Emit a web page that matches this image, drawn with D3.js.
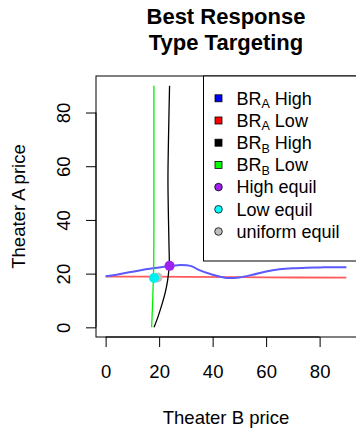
<!DOCTYPE html>
<html>
<head>
<meta charset="utf-8">
<script src="https://cdn.jsdelivr.net/npm/d3@7"></script>
<style>
  body { margin: 0; background: #fff; }
  text { font-family: "Liberation Sans", Arial, sans-serif; fill: #000; }
</style>
</head>
<body>
<div id="chart"></div>
<script>
// ---- data ----
// BR_A curves: theater A price as a function of theater B price
var brAHighX = [0, 5, 10, 15, 20, 25, 28, 32, 35, 40, 45, 50, 55, 60, 65, 70, 75, 80, 85, 90];
var brAHighY = [19.0, 19.8, 20.7, 21.6, 22.3, 22.9, 23.2, 22.8, 21.3, 19.6, 18.4, 18.6, 19.6, 20.8, 21.6, 22.0, 22.2, 22.3, 22.4, 22.4];
var brALowX = [0, 30, 60, 90];
var brALowY = [18.9, 18.8, 18.6, 18.5];
// BR_B curves: theater B price as a function of theater A price
var brBHighY = [0, 4, 9, 13, 17, 21, 25, 30, 40, 55, 70, 90];
var brBHighX = [18.1, 19.6, 21.2, 22.3, 23.1, 23.6, 23.8, 23.7, 23.5, 23.3, 23.5, 23.9];
var brBLowY = [0, 5, 10, 15, 18, 25, 40, 60, 90];
var brBLowX = [17.2, 17.4, 17.6, 17.75, 17.85, 18.0, 18.05, 18.05, 18.05];
// equilibria (B price, A price)
var equilNames = ["High equil", "Low equil", "uniform equil"];
var equilX = [23.9, 18.1, 19.4];
var equilY = [22.9, 18.4, 18.6];

var tickVals = [0, 20, 40, 60, 80];

var width = 356, height = 429;
var svg = d3.select("#chart").append("svg")
  .attr("width", width).attr("height", height);

var x = d3.scaleLinear().domain([-3.6, 93.6]).range([96, 356]);
var y = d3.scaleLinear().domain([-3.6, 93.6]).range([337, 76]);

// title
svg.append("text").attr("x", 226).attr("y", 23.5).attr("text-anchor", "middle")
  .style("font-size", "22px").style("font-weight", "bold").text("Best Response");
svg.append("text").attr("x", 226).attr("y", 49.5).attr("text-anchor", "middle")
  .style("font-size", "22px").style("font-weight", "bold").text("Type Targeting");

// axes (R style: line only from first to last tick)
var xAxis = svg.append("g").attr("transform", "translate(0,337)")
  .call(d3.axisBottom(x).tickValues(tickVals).tickSize(10).tickPadding(18).tickSizeOuter(0));
xAxis.select(".domain").attr("d", "M" + x(0) + ",0H" + x(80));
xAxis.selectAll("text").style("font-size", "18.5px").attr("font-family", null);

var yAxis = svg.append("g").attr("transform", "translate(96,0)")
  .call(d3.axisLeft(y).tickValues(tickVals).tickSize(10).tickSizeOuter(0));
yAxis.select(".domain").attr("d", "M0," + y(0) + "V" + y(80));
yAxis.selectAll(".tick text")
  .attr("x", null).attr("dy", null)
  .attr("transform", "translate(-26,0) rotate(-90)")
  .attr("text-anchor", "middle")
  .style("font-size", "18.5px").attr("font-family", null);
svg.selectAll(".tick line, .domain").attr("stroke", "#000").attr("stroke-width", 1);

// axis titles
svg.append("text").attr("x", 226).attr("y", 424).attr("text-anchor", "middle")
  .style("font-size", "18.5px").text("Theater B price");
svg.append("text").attr("transform", "translate(25,206.5) rotate(-90)")
  .attr("text-anchor", "middle").style("font-size", "18.5px").text("Theater A price");

// curves
var lineYofX = d3.line().x(d => x(d[0])).y(d => y(d[1])).curve(d3.curveCatmullRom);

svg.append("path").datum(brALowX.map((v, i) => [v, brALowY[i]]))
  .attr("d", lineYofX).attr("fill", "none").attr("stroke", "#ff5a5a").attr("stroke-width", 1.8);
svg.append("path").datum(brAHighX.map((v, i) => [v, brAHighY[i]]))
  .attr("d", lineYofX).attr("fill", "none").attr("stroke", "#5a5aff").attr("stroke-width", 2);
svg.append("path").datum(brBLowX.map((v, i) => [v, brBLowY[i]]))
  .attr("d", lineYofX).attr("fill", "none").attr("stroke", "#00ee00").attr("stroke-width", 1.3);
svg.append("path").datum(brBHighX.map((v, i) => [v, brBHighY[i]]))
  .attr("d", lineYofX).attr("fill", "none").attr("stroke", "#000").attr("stroke-width", 1.3);

// equilibrium points (uniform drawn first, behind)
var equilColors = ["#a020f0", "#00f0f0", "#bebebe"];
var order = [2, 1, 0];
svg.selectAll(".eq").data(order).enter().append("circle")
  .attr("class", "eq")
  .attr("cx", i => x(equilX[i])).attr("cy", i => y(equilY[i]))
  .attr("r", 5).attr("fill", i => equilColors[i]);

// plot box
svg.append("rect").attr("x", 96).attr("y", 76).attr("width", 262).attr("height", 261)
  .attr("fill", "none").attr("stroke", "#000").attr("stroke-width", 1);

// legend
var legendItems = [
  { main: "BR", sub: "A", rest: " High", col: "#0000ff", shape: "sq" },
  { main: "BR", sub: "A", rest: " Low", col: "#ff0000", shape: "sq" },
  { main: "BR", sub: "B", rest: " High", col: "#000000", shape: "sq" },
  { main: "BR", sub: "B", rest: " Low", col: "#00ff00", shape: "sq" },
  { main: "High equil", sub: "", rest: "", col: "#a020f0", shape: "ci" },
  { main: "Low equil", sub: "", rest: "", col: "#00ffff", shape: "ci" },
  { main: "uniform equil", sub: "", rest: "", col: "#bebebe", shape: "ci" }
];
var legend = svg.append("g");
legend.append("rect").attr("x", 203.5).attr("y", 76).attr("width", 160).attr("height", 185)
  .attr("fill", "#fff").attr("stroke", "#000").attr("stroke-width", 1);
var rows = legend.selectAll(".row").data(legendItems).enter().append("g")
  .attr("transform", (d, i) => "translate(0," + (98.3 + i * 22.2) + ")");
rows.filter(d => d.shape === "sq").append("rect")
  .attr("x", 215).attr("y", -3.5).attr("width", 7).attr("height", 7)
  .attr("fill", d => d.col).attr("stroke", "#000").attr("stroke-width", 0.8);
rows.filter(d => d.shape === "ci").append("circle")
  .attr("cx", 218.5).attr("cy", 0).attr("r", 3.8)
  .attr("fill", d => d.col).attr("stroke", "#000").attr("stroke-width", 0.8);
var lt = rows.append("text").attr("x", 236.5).attr("y", 6.3).style("font-size", "18px");
lt.append("tspan").text(d => d.main);
lt.filter(d => d.sub).append("tspan").attr("dy", 3.5).style("font-size", "12.5px").text(d => d.sub);
lt.filter(d => d.sub).append("tspan").attr("dy", -3.5).text(d => d.rest);
</script>
</body>
</html>
